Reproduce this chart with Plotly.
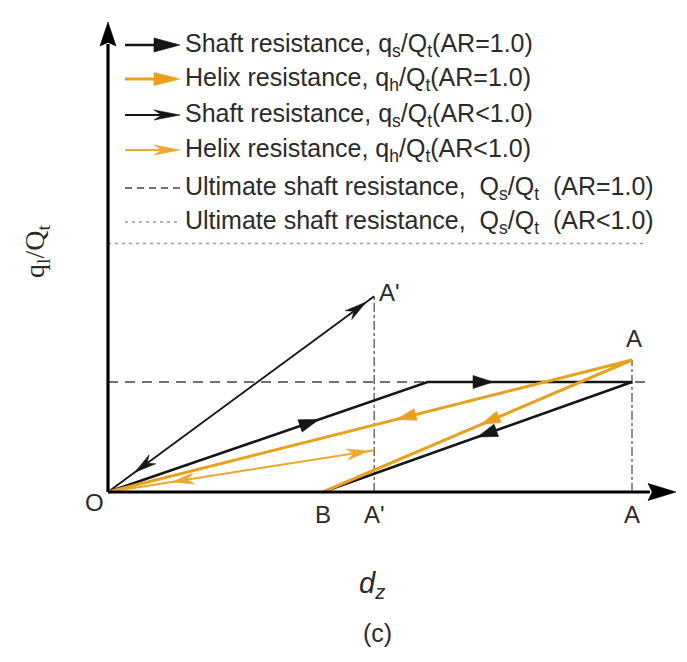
import math
import plotly.graph_objects as go

# ---------------- data: normalised load-transfer paths ----------------
# AR = 1.0 : loaded O -> A, unloaded A -> B
shaft_ar1_dz = [0.0, 0.61, 1.0, 0.41]
shaft_ar1_q = [0.0, 0.50, 0.50, 0.0]
helix_ar1_dz = [0.0, 1.0, 0.41]
helix_ar1_q = [0.0, 0.60, 0.0]
# AR < 1.0 : loaded O -> A', unloaded back to O
shaft_arlt_dz = [0.0, 0.508, 0.0]
shaft_arlt_q = [0.0, 0.89, 0.0]
helix_arlt_dz = [0.0, 0.508, 0.0]
helix_arlt_q = [0.0, 0.19, 0.0]
# ultimate shaft resistance levels Q_s/Q_t
qs_ult_ar1 = 0.50
qs_ult_arlt = 1.13
# marked displacements on the d_z axis
mark_labels = ["B", "A'", "A"]
mark_dz = [0.41, 0.508, 1.0]
# direction arrows: (segment index, position along segment, +1 forward / -1 backward)
shaft_ar1_arrows = [(0, 0.66, 1), (1, 0.32, 1), (2, 0.50, 1)]
helix_ar1_arrows = [(0, 0.55, -1), (1, 0.49, 1)]
shaft_arlt_arrows = [(0, 0.97, 1), (1, 0.90, 1)]
helix_arlt_arrows = [(0, 0.98, 1), (1, 0.76, 1)]
legend_labels = [
    "Shaft resistance, q<sub>s</sub>/Q<sub>t</sub>(AR=1.0)",
    "Helix resistance, q<sub>h</sub>/Q<sub>t</sub>(AR=1.0)",
    "Shaft resistance, q<sub>s</sub>/Q<sub>t</sub>(AR&lt;1.0)",
    "Helix resistance, q<sub>h</sub>/Q<sub>t</sub>(AR&lt;1.0)",
    "Ultimate shaft resistance,&nbsp; Q<sub>s</sub>/Q<sub>t</sub>&nbsp; (AR=1.0)",
    "Ultimate shaft resistance,&nbsp; Q<sub>s</sub>/Q<sub>t</sub>&nbsp; (AR&lt;1.0)",
]

# ---------------- canvas / scale ----------------
W, H = 687, 662
ORIGIN_PX = (108, 492)
PX_PER_DZ = 524
PX_PER_Q = 220
x_range = [-ORIGIN_PX[0] / PX_PER_DZ, (W - ORIGIN_PX[0]) / PX_PER_DZ]
y_range = [(ORIGIN_PX[1] - H) / PX_PER_Q, ORIGIN_PX[1] / PX_PER_Q]

BLACK = "#161616"
ORANGE = "#E9A11A"
ORANGE_THIN = "#EFA82C"
TEXT = "#2b2b2b"


def to_px(x, y):
    return ((x - x_range[0]) / (x_range[1] - x_range[0]) * W,
            H - (y - y_range[0]) / (y_range[1] - y_range[0]) * H)


def to_data(px, py):
    return (x_range[0] + px / W * (x_range[1] - x_range[0]),
            y_range[0] + (H - py) / H * (y_range[1] - y_range[0]))


def head_points(tip, direction, length, width, notch):
    tx, ty = tip
    dx, dy = direction
    n = math.hypot(dx, dy)
    dx, dy = dx / n, dy / n
    nx, ny = -dy, dx
    bx, by = tx - length * dx, ty - length * dy
    pts = [(tx, ty),
           (bx + width / 2 * nx, by + width / 2 * ny),
           (tx - notch * length * dx, ty - notch * length * dy),
           (bx - width / 2 * nx, by - width / 2 * ny),
           (tx, ty)]
    return [to_data(*p) for p in pts]


def heads_trace(polys, color):
    xs, ys = [], []
    for poly in polys:
        for x, y in poly:
            xs.append(x)
            ys.append(y)
        xs.append(None)
        ys.append(None)
    return go.Scatter(x=xs, y=ys, mode="lines", fill="toself", fillcolor=color,
                      line=dict(color=color, width=0.6), hoverinfo="skip",
                      showlegend=False)


def path_heads(xs, ys, arrows, length, width, notch):
    polys = []
    for seg, t, sign in arrows:
        p0 = to_px(xs[seg], ys[seg])
        p1 = to_px(xs[seg + 1], ys[seg + 1])
        tip = (p0[0] + t * (p1[0] - p0[0]), p0[1] + t * (p1[1] - p0[1]))
        d = (sign * (p1[0] - p0[0]), sign * (p1[1] - p0[1]))
        polys.append(head_points(tip, d, length, width, notch))
    return polys


def line(xs, ys, color, width, dash="solid"):
    return go.Scatter(x=xs, y=ys, mode="lines", line=dict(color=color, width=width, dash=dash),
                      hoverinfo="skip", showlegend=False)


fig = go.Figure()

# reference lines
ult_end = to_data(645, 0)[0]
fig.add_trace(line([0, ult_end], [qs_ult_arlt, qs_ult_arlt], "#9a9a9a", 1.5, "3px,4px"))
fig.add_trace(line([0, ult_end], [qs_ult_ar1, qs_ult_ar1], "#444444", 1.6, "10px,7px"))
fig.add_trace(line([mark_dz[1], mark_dz[1]], [0, shaft_arlt_q[1]], "#555555", 1.3, "dashdot"))
fig.add_trace(line([mark_dz[2], mark_dz[2]], [0, helix_ar1_q[1]], "#555555", 1.3, "dashdot"))

# load-transfer paths
fig.add_trace(line(shaft_ar1_dz, shaft_ar1_q, BLACK, 2.6))
fig.add_trace(line(shaft_arlt_dz, shaft_arlt_q, BLACK, 1.9))
fig.add_trace(line(helix_ar1_dz, helix_ar1_q, ORANGE, 3.0))
fig.add_trace(line(helix_arlt_dz, helix_arlt_q, ORANGE_THIN, 2.0))

fig.add_trace(heads_trace(path_heads(shaft_ar1_dz, shaft_ar1_q, shaft_ar1_arrows, 20, 13, 1.0), BLACK))
fig.add_trace(heads_trace(path_heads(shaft_arlt_dz, shaft_arlt_q, shaft_arlt_arrows, 22, 11, 0.7), BLACK))
fig.add_trace(heads_trace(path_heads(helix_ar1_dz, helix_ar1_q, helix_ar1_arrows, 20, 12, 1.0), ORANGE))
fig.add_trace(heads_trace(path_heads(helix_arlt_dz, helix_arlt_q, helix_arlt_arrows, 22, 11, 0.7), ORANGE_THIN))

# axes with arrowheads
y_tip = to_data(0, 22)[1]
x_tip = to_data(676, 0)[0]
y_base = to_data(0, 22 + 22)[1]
x_base = to_data(676 - 26, 0)[0]
fig.add_trace(line([0, 0], [0, y_base], "#000000", 3.2))
fig.add_trace(line([0, x_base], [0, 0], "#000000", 3.2))
fig.add_trace(heads_trace([head_points(to_px(0, y_tip), (0, -1), 24, 16, 0.85),
                           head_points(to_px(x_tip, 0), (1, 0), 28, 17, 0.85)], "#000000"))

# hand-drawn key
legend_rows = [45, 79, 115, 150, 188, 222]
key_x0, key_x1 = 125, 180
key_styles = [(BLACK, 2.6, 26, 14, 1.0), (ORANGE, 3.0, 26, 13, 1.0),
              (BLACK, 1.9, 26, 10, 0.7), (ORANGE_THIN, 2.0, 26, 10, 0.7)]
key_heads = {}
for row_y, (color, width, hl, hw, notch) in zip(legend_rows[:4], key_styles):
    (ax0, ay0), (ax1, _) = to_data(key_x0, row_y), to_data(key_x1 - hl * 0.6, row_y)
    fig.add_trace(line([ax0, ax1], [ay0, ay0], color, width))
    key_heads.setdefault(color, []).append(head_points((key_x1, row_y), (1, 0), hl, hw, notch))
for color, polys in key_heads.items():
    fig.add_trace(heads_trace(polys, color))
for row_y, (color, width, dash) in zip(legend_rows[4:], [("#444444", 1.6, "7px,5px"),
                                                        ("#9a9a9a", 1.5, "3px,4px")]):
    (ax0, ay0), (ax1, _) = to_data(key_x0, row_y), to_data(key_x1, row_y)
    fig.add_trace(line([ax0, ax1], [ay0, ay0], color, width, dash))

annotations = []
for row_y, label in zip(legend_rows, legend_labels):
    annotations.append(dict(x=183 / W, y=1 - row_y / H, xref="paper", yref="paper", text=label,
                            showarrow=False, xanchor="left", yanchor="middle",
                            font=dict(family="Arial, Liberation Sans", size=25, color=TEXT)))

label_font = dict(family="Arial, Liberation Sans", size=24, color=TEXT)
for lab, dz in zip(mark_labels, mark_dz):
    annotations.append(dict(x=dz, y=0, text=lab, showarrow=False, xanchor="center",
                            yanchor="middle", yshift=-22, font=label_font))
annotations.append(dict(x=0, y=0, text="O", showarrow=False, xanchor="center", yanchor="middle",
                        xshift=-14, yshift=-10, font=label_font))
annotations.append(dict(x=shaft_arlt_dz[1], y=shaft_arlt_q[1], text="A'", showarrow=False,
                        xanchor="left", yanchor="middle", xshift=3, yshift=4, font=label_font))
annotations.append(dict(x=helix_ar1_dz[1], y=helix_ar1_q[1], text="A", showarrow=False,
                        xanchor="center", yanchor="bottom", xshift=2, yshift=6, font=label_font))

# axis titles and panel tag
annotations.append(dict(x=37 / W, y=1 - 252 / H, xref="paper", yref="paper",
                        text="q<sub>l</sub>/Q<sub>t</sub>", textangle=-90, showarrow=False,
                        xanchor="center", yanchor="middle",
                        font=dict(family="Liberation Serif, Times New Roman", size=28, color=TEXT)))
annotations.append(dict(x=372 / W, y=1 - 585 / H, xref="paper", yref="paper",
                        text="<i>d<sub>z</sub></i>", showarrow=False, xanchor="center",
                        yanchor="middle",
                        font=dict(family="Arial, Liberation Sans", size=29, color=TEXT)))
annotations.append(dict(x=377 / W, y=1 - 633 / H, xref="paper", yref="paper",
                        text="(c)", showarrow=False, xanchor="center", yanchor="middle",
                        font=dict(family="Arial, Liberation Sans", size=25, color=TEXT)))

fig.update_layout(
    width=W, height=H, autosize=False,
    margin=dict(l=0, r=0, t=0, b=0, pad=0),
    paper_bgcolor="white", plot_bgcolor="white",
    xaxis=dict(range=x_range, visible=False, fixedrange=True),
    yaxis=dict(range=y_range, visible=False, fixedrange=True),
    showlegend=False,
    annotations=annotations,
)

fig.write_html("out.html", config={"displayModeBar": False})
